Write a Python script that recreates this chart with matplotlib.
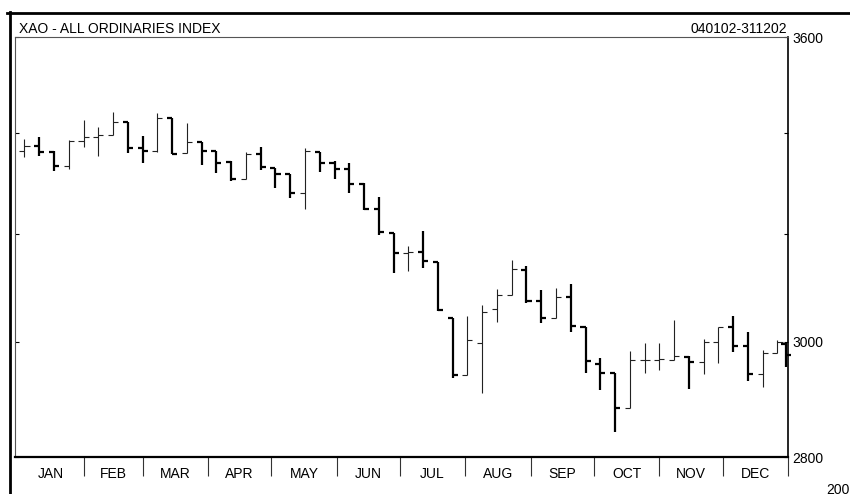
import numpy as np
import pandas as pd
import matplotlib
matplotlib.use("Agg")
import matplotlib.pyplot as plt
import matplotlib.dates as mdates
from matplotlib.lines import Line2D
from matplotlib.ticker import FixedLocator, FixedFormatter

plt.rcParams['font.family'] = ['Liberation Sans', 'DejaVu Sans']

# weekly bars, XAO 2002 (week ending Friday, last bar is the 2-day week to 31 Dec)
dates = list(pd.date_range('2002-01-04', periods=52, freq='W-FRI')) + [pd.Timestamp('2002-12-31')]

opens = [3363, 3373, 3361, 3333, 3383, 3391, 3395, 3422, 3369, 3363,
         3430, 3359, 3381, 3363, 3341, 3307, 3357, 3329, 3317, 3279,
         3361, 3339, 3327, 3297, 3248, 3202, 3164, 3166, 3147, 3043,
         2941, 2998, 3059, 3085, 3132, 3074, 3043, 3081, 3027, 2961,
         2945, 2884, 2968, 2968, 2968, 2973, 2964, 3000, 3027, 2993,
         2943, 2980, 2995]
highs = [3387, 3391, 3362, 3385, 3426, 3411, 3442, 3422, 3393, 3440,
         3430, 3419, 3381, 3363, 3343, 3361, 3371, 3329, 3317, 3369,
         3361, 3343, 3339, 3299, 3272, 3202, 3177, 3206, 3147, 3043,
         3047, 3067, 3096, 3151, 3139, 3094, 3098, 3106, 3027, 2971,
         2945, 2984, 2998, 2997, 3040, 2975, 3005, 3027, 3047, 3018,
         2985, 3003, 2998]
lows = [3351, 3353, 3323, 3327, 3371, 3353, 3395, 3359, 3339, 3361,
        3357, 3359, 3335, 3319, 3303, 3306, 3325, 3289, 3270, 3248,
        3321, 3307, 3279, 3246, 3198, 3126, 3130, 3135, 3056, 2936,
        2941, 2909, 3036, 3085, 3070, 3034, 3043, 3018, 2945, 2914,
        2843, 2884, 2945, 2950, 2968, 2916, 2943, 2962, 2982, 2931,
        2920, 2980, 2955]
closes = [3373, 3361, 3333, 3383, 3391, 3395, 3422, 3369, 3363, 3430,
          3357, 3381, 3363, 3339, 3307, 3357, 3331, 3317, 3279, 3363,
          3339, 3327, 3297, 3248, 3204, 3164, 3166, 3149, 3058, 2941,
          3003, 3054, 3085, 3133, 3074, 3043, 3081, 3029, 2966, 2945,
          2884, 2968, 2968, 2969, 2975, 2964, 3000, 3027, 2993, 2943,
          2980, 3000, 2977]

months = ['JAN', 'FEB', 'MAR', 'APR', 'MAY', 'JUN', 'JUL', 'AUG', 'SEP', 'OCT', 'NOV', 'DEC']
month_starts = pd.date_range('2002-01-01', periods=13, freq='MS')

y_ticks = [2800, 3000, 3200, 3400, 3600]
y_labels = ['2800', '3000', '', '', '3600']

x = mdates.date2num(dates)
o = np.array(opens); h = np.array(highs); l = np.array(lows); c = np.array(closes)
down = c < o

fig = plt.figure(figsize=(8.5, 4.94), dpi=100)
ax = fig.add_axes([15/850, 37/494, 773/850, 420/494])

w = 2.4  # tick length in days
for m, lw, col in [(~down, 0.8, '#222222'), (down, 1.6, 'black')]:
    ax.vlines(x[m], l[m], h[m], color=col, lw=lw, clip_on=False)
    ax.hlines(o[m], x[m] - w, x[m], color=col, lw=lw, clip_on=False)
    ax.hlines(c[m], x[m], x[m] + w, color=col, lw=lw, clip_on=False)

ax.set_yscale('log')
ax.set_ylim(2800, 3600)
ax.yaxis.set_major_locator(FixedLocator(y_ticks))
ax.yaxis.set_major_formatter(FixedFormatter(y_labels))
ax.yaxis.set_minor_locator(FixedLocator([]))
ax.tick_params(axis='y', which='major', direction='in', length=3, width=0.8,
               left=True, right=True, labelleft=False, labelright=True,
               pad=3, labelsize=10)

ax.set_xlim(mdates.date2num(pd.Timestamp('2001-12-30 12:00')),
            mdates.date2num(pd.Timestamp('2003-01-01')))
ms = mdates.date2num(month_starts)
ax.set_xticks(ms[1:])
ax.set_xticklabels([])
ax.tick_params(axis='x', direction='out', length=14, width=0.8, color='#333333')
for i, name in enumerate(months):
    ax.text((ms[i] + ms[i + 1]) / 2, -0.05, name, transform=ax.get_xaxis_transform(),
            ha='center', va='baseline', fontsize=10)

ax.spines['top'].set_color('#555555')
ax.spines['top'].set_linewidth(0.8)
ax.spines['left'].set_color('#555555')
ax.spines['left'].set_linewidth(0.8)
ax.spines['bottom'].set_linewidth(1.6)
ax.spines['right'].set_linewidth(1.2)

# outer frame
fig.add_artist(Line2D([7/850, 1], [1 - 13.5/494] * 2, lw=2.0, color='black', transform=fig.transFigure))
fig.add_artist(Line2D([9.8/850] * 2, [0, 1 - 12.5/494], lw=2.0, color='black', transform=fig.transFigure))

fig.text(19/850, 1 - 33/494, 'XAO - ALL ORDINARIES INDEX', fontsize=10, va='baseline')
fig.text(787/850, 1 - 33/494, '040102-311202', fontsize=10, va='baseline', ha='right')
fig.text(826/850, 1 - 483/494, '2002', fontsize=10, va='top')

fig.savefig('out.png', dpi=100)
